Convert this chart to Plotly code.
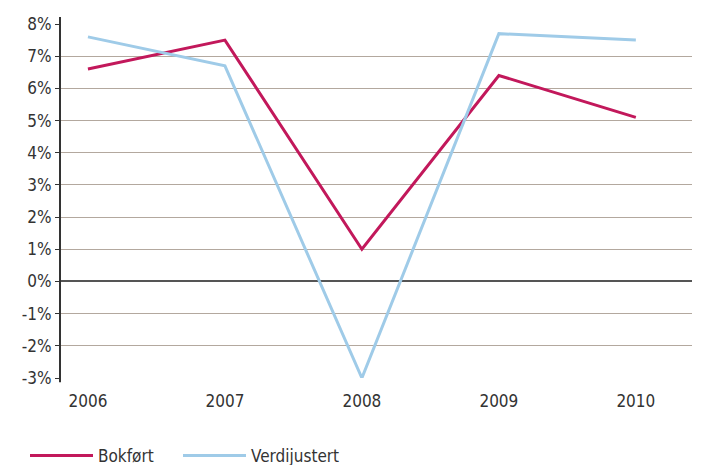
import plotly.graph_objects as go

years = ["2006", "2007", "2008", "2009", "2010"]
bokfort = [6.6, 7.5, 1.0, 6.4, 5.1]
verdijustert = [7.6, 6.7, -3.0, 7.7, 7.5]
y_ticks = [-3, -2, -1, 0, 1, 2, 3, 4, 5, 6, 7, 8]
y_labels = [f"{v}%" for v in y_ticks]

FONT = "DejaVu Sans Condensed, Liberation Sans Narrow, Open Sans, sans-serif"

fig = go.Figure()
fig.add_trace(go.Scatter(x=years, y=bokfort, mode="lines", name="Bokført",
                         line=dict(color="#c2185b", width=3), legend="legend"))
fig.add_trace(go.Scatter(x=years, y=verdijustert, mode="lines", name="Verdijustert",
                         line=dict(color="#9fcbe8", width=3), legend="legend2"))

leg_common = dict(orientation="h", xref="container", yref="container",
                  xanchor="left", y=9 / 465, yanchor="middle",
                  font=dict(size=17), itemwidth=63, bgcolor="rgba(0,0,0,0)")

fig.update_layout(
    width=712, height=465,
    margin=dict(l=60, r=20, t=24, b=87),
    paper_bgcolor="white", plot_bgcolor="white",
    font=dict(family=FONT, size=17, color="#333333"),
    showlegend=True,
    legend=dict(x=25 / 712, **leg_common),
    legend2=dict(x=178 / 712, **leg_common),
    xaxis=dict(type="category", range=[-0.204, 4.41], showgrid=False, showline=False,
               ticks="", tickfont=dict(size=17), automargin=False, ticklabelstandoff=11),
    yaxis=dict(range=[-3, 8], tickvals=y_ticks, ticktext=y_labels, showgrid=True,
               gridcolor="#b3a89e", gridwidth=1, zeroline=True, zerolinecolor="#555555",
               zerolinewidth=1.5, showline=False,
               ticks="outside", ticklen=4, tickcolor="#333333", tickfont=dict(size=17),
               automargin=False),
    shapes=[dict(type="line", xref="paper", yref="paper", x0=0, x1=0,
                 y0=-0.012, y1=1.02, line=dict(color="#333333", width=2))],
)
fig.write_html("out.html", config={"displayModeBar": False},
               post_script="document.body.style.margin='0';")
